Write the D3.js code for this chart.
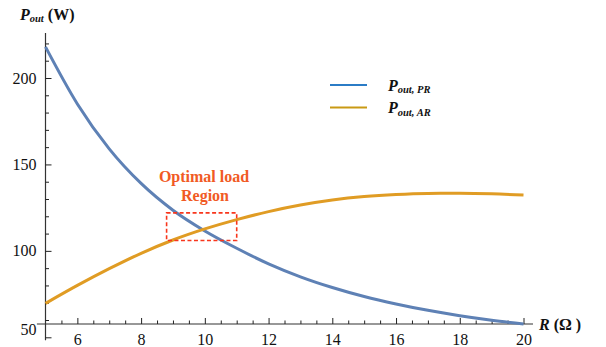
<!DOCTYPE html>
<html>
<head>
<meta charset="utf-8">
<script src="https://cdn.jsdelivr.net/npm/d3@7"></script>
<style>
  body { margin: 0; background: #fff; }
  svg text { font-family: "Liberation Serif", "Times New Roman", serif; }
</style>
</head>
<body>
<div id="chart"></div>
<script>
// load resistance R (ohm)
const resistance = [5, 6, 7, 8, 9, 10, 11, 12, 13, 14, 15, 16, 17, 18, 19, 20];
// output power, PR and AR (W)
const powerPR = [218, 185, 159, 139, 123.5, 111.5, 101.5, 92.5, 85, 78.8, 73.6, 69.3, 65.6, 62.5, 59.9, 57.7];
const powerAR = [69.6, 80.0, 89.7, 98.6, 106.3, 112.7, 118.1, 122.7, 126.5, 129.4, 131.4, 132.6, 133.2, 133.3, 133.0, 132.3];

const xMajor = [6, 8, 10, 12, 14, 16, 18, 20];
const yMajor = [50, 100, 150, 200];
// optimal load box: R range and P range
const boxR = [8.8, 11];
const boxP = [106, 122];

const width = 606, height = 347;
const size = { x0: 45.5, x1: 523.5, yTop: 78, yBottom: 337.3 };

const svg = d3.select("#chart").append("svg")
    .attr("width", width)
    .attr("height", height);

const x = d3.scaleLinear().domain([5, 20]).range([size.x0, size.x1]);
const y = d3.scaleLinear().domain([50, 200]).range([size.yBottom, size.yTop]);

const originP = 57.7;   // where the R axis crosses
const axisY = y(originP);

// axis lines
svg.append("line")
    .attr("x1", x(4.73)).attr("x2", x(20.3))
    .attr("y1", axisY).attr("y2", axisY)
    .attr("stroke", "#333").attr("stroke-width", 1.2);
svg.append("line")
    .attr("x1", x(5)).attr("x2", x(5))
    .attr("y1", y(226)).attr("y2", y(48.3))
    .attr("stroke", "#333").attr("stroke-width", 1.2);

// minor ticks
const xMinor = d3.range(5.5, 20.01, 0.5).filter(v => xMajor.indexOf(v) < 0);
const yMinor = d3.range(60, 221, 10).filter(v => yMajor.indexOf(v) < 0);

const xAxis = svg.append("g")
    .attr("transform", "translate(0," + axisY + ")")
    .call(d3.axisBottom(x).tickValues(xMajor).tickSizeInner(-6).tickSizeOuter(0).tickPadding(10));
xAxis.append("g")
    .call(d3.axisBottom(x).tickValues(xMinor).tickSizeInner(-3.5).tickSizeOuter(0).tickFormat(""));

const yAxis = svg.append("g")
    .attr("transform", "translate(" + x(5) + ",0)")
    .call(d3.axisLeft(y).tickValues(yMajor).tickSizeInner(-6).tickSizeOuter(0).tickPadding(9));
yAxis.append("g")
    .call(d3.axisLeft(y).tickValues(yMinor).tickSizeInner(-3.5).tickSizeOuter(0).tickFormat(""));

svg.selectAll(".domain").remove();
[xAxis, yAxis].forEach(g => g
    .attr("font-family", "Liberation Serif")
    .attr("font-size", 16));
svg.selectAll(".tick line").attr("stroke", "#222").attr("stroke-width", 1);
svg.selectAll(".tick text").attr("fill", "#111");
// the 50 label sits just under the R axis in the original
yAxis.selectAll(".tick text").filter(d => d === 50).attr("y", -8);

// curves
const line = d3.line()
    .x(d => x(d[0]))
    .y(d => y(d[1]))
    .curve(d3.curveMonotoneX);

svg.append("path")
    .datum(d3.zip(resistance, powerPR))
    .attr("d", line)
    .attr("fill", "none")
    .attr("stroke", "#5e81b5")
    .attr("stroke-width", 3);

svg.append("path")
    .datum(d3.zip(resistance, powerAR))
    .attr("d", line)
    .attr("fill", "none")
    .attr("stroke", "#e09c24")
    .attr("stroke-width", 3);

// optimal load region
svg.append("rect")
    .attr("x", x(boxR[0]))
    .attr("y", y(boxP[1]))
    .attr("width", x(boxR[1]) - x(boxR[0]))
    .attr("height", y(boxP[0]) - y(boxP[1]))
    .attr("fill", "none")
    .attr("stroke", "#f8361c")
    .attr("stroke-width", 1.6)
    .attr("stroke-dasharray", "4,2.5");

const note = svg.append("g")
    .style("font-weight", "bold")
    .style("font-size", "16px")
    .attr("fill", "#f15a24")
    .attr("text-anchor", "middle");
note.append("text").attr("x", 204).attr("y", 182).text("Optimal load");
note.append("text").attr("x", 205).attr("y", 201).text("Region");

// axis titles
const yTitle = svg.append("text")
    .attr("x", 20).attr("y", 20)
    .style("font-weight", "bold")
    .style("font-size", "16px")
    .attr("fill", "#111");
yTitle.append("tspan").style("font-style", "italic").text("P");
yTitle.append("tspan").style("font-style", "italic").style("font-size", "10.5px").attr("dy", 2).text("out");
yTitle.append("tspan").attr("dy", -2).text(" (W)");

const xTitle = svg.append("text")
    .attr("x", 539).attr("y", 330)
    .style("font-weight", "bold")
    .style("font-size", "16px")
    .attr("fill", "#111");
xTitle.append("tspan").style("font-style", "italic").text("R");
xTitle.append("tspan").text(" (\u03A9 )");

// legend
const legend = [
    { sub: "out, PR", color: "#2b7cc6" },
    { sub: "out, AR", color: "#c99a14" }
];
const lg = svg.append("g").attr("transform", "translate(330,85)");
legend.forEach((d, i) => {
    const row = lg.append("g").attr("transform", "translate(0," + (i * 22.5) + ")");
    row.append("line")
        .attr("x1", 0).attr("x2", 37)
        .attr("stroke", d.color).attr("stroke-width", 2.2);
    const t = row.append("text")
        .attr("x", 58).attr("y", 5.5)
        .style("font-weight", "bold")
        .style("font-style", "italic")
        .style("font-size", "16px")
        .attr("fill", "#111");
    t.append("tspan").text("P");
    t.append("tspan").attr("dy", 2.5).style("font-size", "10.5px").text(d.sub);
});
</script>
</body>
</html>
